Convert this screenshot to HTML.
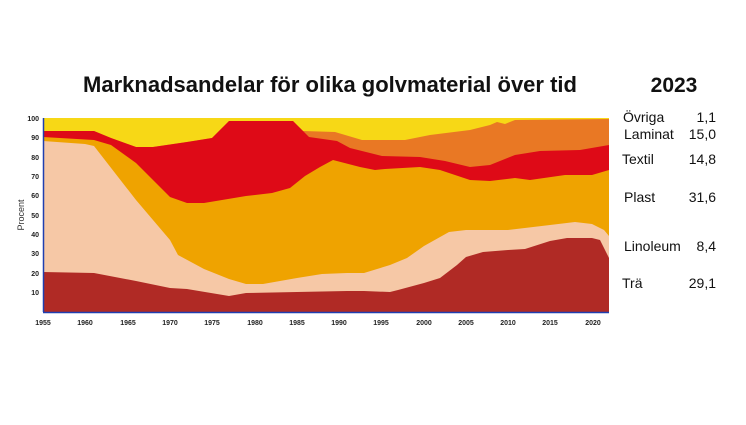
<!DOCTYPE html>
<html><head><meta charset="utf-8"><style>
body{margin:0;background:#fff;width:746px;height:420px;overflow:hidden;font-family:"Liberation Sans",sans-serif}
</style></head><body>
<svg width="746" height="420" viewBox="0 0 746 420" xmlns="http://www.w3.org/2000/svg" font-family="Liberation Sans, sans-serif">
<text x="330" y="92" font-size="22" font-weight="bold" text-anchor="middle" fill="#111">Marknadsandelar för olika golvmaterial över tid</text>
<text x="674" y="92" font-size="21" font-weight="bold" text-anchor="middle" fill="#111">2023</text>
<!-- yellow background -->
<rect x="43" y="118" width="566" height="194" fill="#f7d816"/>
<!-- laminat orange -->
<polygon fill="#e97824" points="43,131 94,131 111,138 136,147 153,147 187,142 212,138 229,121 293,121 303,131 335,132 362,140 405,140 430,135 470,130 490,125 497,122 505,124 515,120 609,119 609,312 43,312"/>
<!-- textil red -->
<polygon fill="#de0a17" points="43,131 94,131 111,138 136,147 153,147 187,142 212,138 229,121 293,121 309,137 337,141 350,148 382,156 420,157 445,161 470,167 490,165 515,155 540,151 580,150 609,145 609,312 43,312"/>
<!-- plast -->
<polygon fill="#efa300" points="43,137 94,140 111,145 136,163 153,180 170,197 187,203 204,203 246,196 272,193 290,188 305,176 320,167 333,160 360,167 375,170 385,169 420,167 440,170 470,180 490,181 515,178 530,180 565,175 592,175 609,170 609,312 43,312"/>
<!-- linoleum -->
<polygon fill="#f6c8a6" points="43,141 85,144 94,146 136,200 170,240 178,255 204,269 229,279 246,284 263,284 297,278 322,274 347,273 364,273 390,265 407,258 424,246 449,232 466,230 508,230 550,225 575,222 592,224 604,230 609,236 609,312 43,312"/>
<!-- trä -->
<polygon fill="#b02a25" points="43,272 94,273 136,281 170,288 187,289 229,296 246,293 297,292 347,291 364,291 390,292 398,290 424,283 440,278 457,265 466,257 483,252 508,250 525,249 550,241 567,238 592,238 600,240 605,250 609,258 609,312 43,312"/>
<line x1="43.5" y1="118" x2="43.5" y2="312" stroke="#1f3fb0" stroke-width="1.5"/>
<line x1="43" y1="312.5" x2="609" y2="312.5" stroke="#1f3fb0" stroke-width="1.5"/>
<g font-size="7" font-weight="bold" fill="#222" text-anchor="end">
<text x="39" y="121">100</text><text x="39" y="140">90</text><text x="39" y="160">80</text><text x="39" y="179">70</text><text x="39" y="198">60</text><text x="39" y="218">50</text><text x="39" y="237">40</text><text x="39" y="256">30</text><text x="39" y="276">20</text><text x="39" y="295">10</text>
</g>
<text transform="translate(24,215) rotate(-90)" font-size="9" fill="#333" text-anchor="middle">Procent</text>
<g font-size="7" font-weight="bold" fill="#222" text-anchor="middle">
<text x="43" y="325">1955</text><text x="85" y="325">1960</text><text x="128" y="325">1965</text><text x="170" y="325">1970</text><text x="212" y="325">1975</text><text x="255" y="325">1980</text><text x="297" y="325">1985</text><text x="339" y="325">1990</text><text x="381" y="325">1995</text><text x="424" y="325">2000</text><text x="466" y="325">2005</text><text x="508" y="325">2010</text><text x="550" y="325">2015</text><text x="593" y="325">2020</text>
</g>
<g font-size="14" fill="#111">
<text x="623" y="122">Övriga</text><text x="716" y="122" text-anchor="end">1,1</text>
<text x="624" y="139">Laminat</text><text x="716" y="139" text-anchor="end">15,0</text>
<text x="622" y="164">Textil</text><text x="716" y="164" text-anchor="end">14,8</text>
<text x="624" y="202">Plast</text><text x="716" y="202" text-anchor="end">31,6</text>
<text x="624" y="251">Linoleum</text><text x="716" y="251" text-anchor="end">8,4</text>
<text x="622" y="288">Trä</text><text x="716" y="288" text-anchor="end">29,1</text>
</g>
</svg>
</body></html>
